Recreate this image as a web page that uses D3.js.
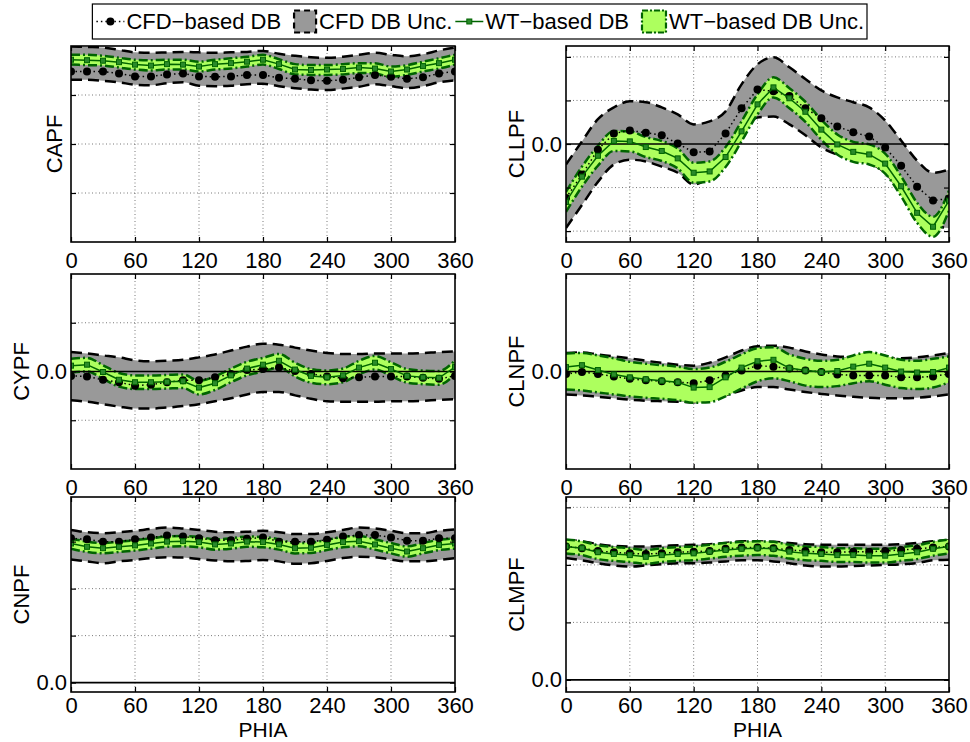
<!DOCTYPE html>
<html lang="en">
<head>
<meta charset="UTF-8">
<title>CFD vs WT database</title>
<style>
  body { margin: 0; background: #fff; }
  svg { display: block; font-family: "Liberation Sans", Arial, Helvetica, sans-serif; }
</style>
</head>
<body>
<svg id="chart" width="970" height="742"></svg>
<script src="https://d3js.org/d3.v7.min.js"></script>
<script>
// ---- data ----
const phia = [0,15,30,45,60,75,90,105,120,135,150,165,180,195,210,225,240,255,270,285,300,315,330,345,360];
const xTicks = [0,60,120,180,240,300,360];

const capfCfd   = [4.48,4.48,4.48,4.44,4.38,4.38,4.42,4.44,4.38,4.37,4.38,4.41,4.41,4.35,4.33,4.30,4.29,4.31,4.36,4.41,4.37,4.33,4.36,4.44,4.48];
const capfCfdLo = [4.31,4.31,4.29,4.26,4.21,4.20,4.24,4.26,4.19,4.18,4.19,4.22,4.23,4.18,4.14,4.11,4.10,4.13,4.17,4.22,4.18,4.14,4.18,4.26,4.30];
const capfCfdHi = [4.99,4.98,4.97,4.92,4.87,4.86,4.87,4.88,4.87,4.86,4.87,4.88,4.90,4.84,4.80,4.77,4.76,4.78,4.82,4.86,4.82,4.79,4.83,4.91,4.97];
const capfWt    = [4.72,4.71,4.70,4.67,4.62,4.60,4.63,4.62,4.58,4.63,4.65,4.68,4.72,4.63,4.52,4.51,4.52,4.53,4.56,4.54,4.48,4.52,4.59,4.65,4.72];
const capfWtLo  = [4.62,4.61,4.60,4.56,4.52,4.50,4.52,4.52,4.48,4.52,4.54,4.58,4.62,4.53,4.42,4.41,4.41,4.42,4.45,4.44,4.37,4.41,4.48,4.54,4.62];
const capfWtHi  = [4.82,4.82,4.80,4.76,4.72,4.71,4.72,4.72,4.68,4.72,4.75,4.78,4.82,4.73,4.63,4.61,4.61,4.63,4.65,4.65,4.58,4.61,4.68,4.75,4.82];

const cllpfCfd   = [-1.24,-0.70,-0.13,0.24,0.31,0.26,0.20,0.01,-0.19,-0.17,0.24,0.82,1.25,1.21,1.10,0.82,0.59,0.40,0.27,0.17,-0.08,-0.50,-0.98,-1.30,-1.25];
const cllpfCfdLo = [-1.93,-1.40,-0.87,-0.47,-0.36,-0.40,-0.52,-0.66,-0.93,-0.75,-0.36,0.22,0.61,0.63,0.45,0.20,-0.08,-0.24,-0.31,-0.43,-0.66,-1.10,-1.51,-1.86,-1.93];
const cllpfCfdHi = [-0.47,0.06,0.57,0.84,0.98,0.96,0.84,0.68,0.45,0.52,0.75,1.37,1.83,1.99,1.76,1.49,1.23,1.07,0.96,0.84,0.54,0.08,-0.38,-0.66,-0.59];
const cllpfWt    = [-1.33,-0.75,-0.27,0.07,0.06,-0.07,-0.16,-0.33,-0.66,-0.63,-0.30,0.29,0.91,1.30,1.05,0.74,0.33,-0.01,-0.18,-0.24,-0.45,-0.97,-1.58,-1.90,-1.30];
const cllpfWtLo  = [-1.56,-0.98,-0.50,-0.16,-0.17,-0.30,-0.39,-0.56,-0.89,-0.86,-0.53,0.06,0.68,1.07,0.82,0.51,0.10,-0.24,-0.41,-0.47,-0.68,-1.20,-1.81,-2.13,-1.53];
const cllpfWtHi  = [-1.10,-0.52,-0.04,0.30,0.29,0.16,0.07,-0.10,-0.43,-0.40,-0.07,0.52,1.14,1.53,1.28,0.97,0.56,0.22,0.05,-0.01,-0.22,-0.74,-1.35,-1.67,-1.07];

const cypfCfd   = [-0.09,-0.10,-0.17,-0.22,-0.29,-0.27,-0.22,-0.18,-0.18,-0.12,-0.05,0.03,0.05,0.08,0.01,-0.05,-0.10,-0.14,-0.12,-0.10,-0.10,-0.10,-0.13,-0.15,-0.09];
const cypfCfdLo = [-0.59,-0.62,-0.67,-0.72,-0.76,-0.76,-0.74,-0.71,-0.67,-0.61,-0.55,-0.47,-0.42,-0.42,-0.49,-0.56,-0.61,-0.62,-0.62,-0.62,-0.61,-0.61,-0.60,-0.58,-0.57];
const cypfCfdHi = [0.40,0.37,0.33,0.29,0.23,0.21,0.22,0.24,0.29,0.35,0.43,0.51,0.57,0.55,0.49,0.43,0.38,0.36,0.36,0.37,0.37,0.37,0.38,0.40,0.41];
const cypfWt    = [0.12,0.14,-0.01,-0.17,-0.22,-0.22,-0.21,-0.20,-0.33,-0.24,-0.08,0.06,0.14,0.22,0.04,-0.09,-0.12,-0.08,0.08,0.18,0.05,-0.09,-0.12,-0.13,0.09];
const cypfWtLo  = [-0.02,0.00,-0.15,-0.31,-0.36,-0.36,-0.35,-0.34,-0.47,-0.38,-0.22,-0.08,0.00,0.08,-0.10,-0.23,-0.26,-0.22,-0.06,0.04,-0.09,-0.23,-0.26,-0.27,-0.05];
const cypfWtHi  = [0.26,0.28,0.13,-0.03,-0.08,-0.08,-0.07,-0.06,-0.19,-0.10,0.06,0.20,0.28,0.36,0.18,0.05,0.02,0.06,0.22,0.32,0.19,0.05,0.02,0.01,0.23];

const clnpfCfd   = [-0.05,-0.01,-0.05,-0.10,-0.15,-0.18,-0.20,-0.22,-0.24,-0.18,-0.08,0.02,0.12,0.10,0.06,0.02,-0.01,-0.06,-0.08,-0.08,-0.08,-0.12,-0.12,-0.10,-0.05];
const clnpfCfdLo = [-0.47,-0.49,-0.52,-0.55,-0.58,-0.60,-0.61,-0.62,-0.63,-0.59,-0.49,-0.39,-0.32,-0.32,-0.37,-0.42,-0.46,-0.49,-0.52,-0.54,-0.55,-0.55,-0.54,-0.51,-0.47];
const clnpfCfdHi = [0.38,0.39,0.35,0.31,0.27,0.22,0.18,0.14,0.12,0.18,0.29,0.43,0.52,0.53,0.49,0.41,0.35,0.31,0.29,0.27,0.26,0.27,0.29,0.33,0.38];
const clnpfWt    = [0.09,0.13,0.03,-0.06,-0.12,-0.16,-0.19,-0.22,-0.33,-0.32,-0.12,0.08,0.21,0.24,0.07,0.02,-0.01,0.01,0.10,0.16,0.08,0.00,-0.02,-0.01,0.08];
const clnpfWtLo  = [-0.37,-0.39,-0.43,-0.47,-0.51,-0.54,-0.56,-0.59,-0.64,-0.63,-0.51,-0.35,-0.20,-0.14,-0.20,-0.29,-0.32,-0.30,-0.24,-0.20,-0.27,-0.34,-0.36,-0.33,-0.22];
const clnpfWtHi  = [0.37,0.38,0.33,0.27,0.20,0.16,0.13,0.10,0.05,0.08,0.20,0.35,0.48,0.50,0.35,0.26,0.22,0.24,0.33,0.40,0.33,0.24,0.22,0.26,0.31];

const cnpfCfd   = [3.07,3.05,3.00,3.00,3.05,3.09,3.13,3.11,3.07,3.03,3.03,3.06,3.09,3.00,3.00,3.00,3.04,3.11,3.14,3.14,3.09,3.02,3.02,3.07,3.07];
const cnpfCfdLo = [2.62,2.58,2.54,2.58,2.61,2.65,2.67,2.66,2.63,2.60,2.58,2.59,2.61,2.58,2.53,2.54,2.59,2.65,2.68,2.67,2.62,2.58,2.58,2.61,2.65];
const cnpfCfdHi = [3.25,3.20,3.18,3.20,3.23,3.27,3.30,3.28,3.25,3.21,3.20,3.21,3.23,3.20,3.16,3.16,3.20,3.25,3.30,3.28,3.23,3.18,3.18,3.23,3.26];
const cnpfWt    = [2.96,2.89,2.86,2.89,2.92,2.96,3.00,3.01,2.99,2.94,2.96,3.00,2.99,2.94,2.86,2.87,2.93,2.99,3.01,2.94,2.86,2.79,2.86,2.93,2.96];
const cnpfWtLo  = [2.85,2.78,2.75,2.78,2.81,2.85,2.89,2.90,2.88,2.83,2.85,2.89,2.88,2.83,2.75,2.76,2.82,2.88,2.90,2.83,2.75,2.68,2.75,2.82,2.85];
const cnpfWtHi  = [3.07,3.00,2.97,3.00,3.03,3.07,3.11,3.12,3.10,3.05,3.07,3.11,3.10,3.05,2.97,2.98,3.04,3.10,3.12,3.05,2.97,2.90,2.97,3.04,3.07];

const clmpfCfd   = [2.32,2.29,2.24,2.22,2.20,2.19,2.20,2.22,2.23,2.24,2.28,2.30,2.30,2.29,2.26,2.24,2.22,2.22,2.23,2.23,2.24,2.26,2.28,2.30,2.32];
const clmpfCfdLo = [2.12,2.08,2.03,1.99,1.97,1.99,2.01,2.03,2.03,2.04,2.06,2.08,2.08,2.06,2.03,1.99,1.97,1.97,1.98,1.99,2.00,2.01,2.03,2.08,2.09];
const clmpfCfdHi = [2.43,2.41,2.36,2.33,2.32,2.32,2.33,2.34,2.35,2.36,2.38,2.41,2.41,2.40,2.38,2.36,2.35,2.35,2.35,2.35,2.35,2.36,2.38,2.41,2.43];
const clmpfWt    = [2.32,2.29,2.22,2.19,2.17,2.14,2.17,2.19,2.20,2.23,2.26,2.28,2.29,2.28,2.23,2.20,2.19,2.17,2.17,2.16,2.16,2.19,2.22,2.28,2.32];
const clmpfWtLo  = [2.20,2.17,2.10,2.07,2.05,2.02,2.05,2.07,2.08,2.11,2.14,2.16,2.17,2.16,2.11,2.08,2.07,2.05,2.05,2.04,2.04,2.07,2.10,2.16,2.20];
const clmpfWtHi  = [2.44,2.41,2.34,2.31,2.29,2.26,2.29,2.31,2.32,2.35,2.38,2.40,2.41,2.40,2.35,2.32,2.31,2.29,2.29,2.28,2.28,2.31,2.34,2.40,2.44];

const legendLabels = ['CFD\u2212based DB', 'CFD DB Unc.', 'WT\u2212based DB', 'WT\u2212based DB Unc.'];

// ---- styles ----
const GRAY_FILL = '#999999';
const GREEN_FILL = '#adff5e';
const DARK_GREEN = '#006400';
const FONT = 22;

const svg = d3.select('#chart');
svg.append('rect').attr('width', 970).attr('height', 742).attr('fill', '#fff');

const cols = [[71, 455], [566, 949]];
const rows = [[46, 242], [274, 469], [497, 692]];

const panels = [
  { name: 'CAPF',  col: 0, row: 0, domain: [1, 5],        ticks: [2, 3, 4],         cfd: capfCfd,  cfdLo: capfCfdLo,  cfdHi: capfCfdHi,  wt: capfWt,  wtLo: capfWtLo,  wtHi: capfWtHi,  xTitle: false },
  { name: 'CLLPF', col: 1, row: 0, domain: [-2.25, 2.25], ticks: [-2, -1, 0, 1, 2], cfd: cllpfCfd, cfdLo: cllpfCfdLo, cfdHi: cllpfCfdHi, wt: cllpfWt, wtLo: cllpfWtLo, wtHi: cllpfWtHi, xTitle: false },
  { name: 'CYPF',  col: 0, row: 1, domain: [-2, 2],       ticks: [-1, 0, 1],        cfd: cypfCfd,  cfdLo: cypfCfdLo,  cfdHi: cypfCfdHi,  wt: cypfWt,  wtLo: cypfWtLo,  wtHi: cypfWtHi,  xTitle: false },
  { name: 'CLNPF', col: 1, row: 1, domain: [-2, 2],       ticks: [0],               cfd: clnpfCfd, cfdLo: clnpfCfdLo, cfdHi: clnpfCfdHi, wt: clnpfWt, wtLo: clnpfWtLo, wtHi: clnpfWtHi, xTitle: false },
  { name: 'CNPF',  col: 0, row: 2, domain: [-0.2, 3.95],  ticks: [0, 1, 2, 3],      cfd: cnpfCfd,  cfdLo: cnpfCfdLo,  cfdHi: cnpfCfdHi,  wt: cnpfWt,  wtLo: cnpfWtLo,  wtHi: cnpfWtHi,  xTitle: true },
  { name: 'CLMPF', col: 1, row: 2, domain: [-0.21, 3.18], ticks: [0, 1, 2, 3],      cfd: clmpfCfd, cfdLo: clmpfCfdLo, cfdHi: clmpfCfdHi, wt: clmpfWt, wtLo: clmpfWtLo, wtHi: clmpfWtHi, xTitle: true }
];

panels.forEach(drawPanel);
drawLegend();

function drawPanel(p) {
  const [x0, x1] = cols[p.col];
  const [y0, y1] = rows[p.row];
  const x = d3.scaleLinear().domain([0, 360]).range([x0, x1]);
  const y = d3.scaleLinear().domain(p.domain).range([y1, y0]);
  const idx = phia.map((d, i) => i);
  const g = svg.append('g');

  const clipId = 'clip-' + p.name;
  g.append('clipPath').attr('id', clipId)
    .append('rect').attr('x', x0).attr('y', y0).attr('width', x1 - x0).attr('height', y1 - y0);

  // dotted grid
  g.selectAll('.vgrid').data(xTicks.slice(1, -1)).enter().append('line')
    .attr('x1', d => x(d)).attr('x2', d => x(d)).attr('y1', y0).attr('y2', y1)
    .attr('stroke', '#555').attr('stroke-width', 0.8).attr('stroke-dasharray', '1,2.5');
  g.selectAll('.hgrid').data(p.ticks.filter(t => t !== 0)).enter().append('line')
    .attr('x1', x0).attr('x2', x1).attr('y1', d => y(d)).attr('y2', d => y(d))
    .attr('stroke', '#555').attr('stroke-width', 0.8).attr('stroke-dasharray', '1,2.5');

  const plot = g.append('g').attr('clip-path', 'url(#' + clipId + ')');

  const band = (lo, hi) => d3.area().curve(d3.curveMonotoneX)
    .x(i => x(phia[i])).y0(i => y(lo[i])).y1(i => y(hi[i]));
  const edge = arr => d3.line().curve(d3.curveMonotoneX)
    .x(i => x(phia[i])).y(i => y(arr[i]));
  const line = arr => d3.line().x(i => x(phia[i])).y(i => y(arr[i]));

  // CFD uncertainty band
  plot.append('path').datum(idx).attr('d', band(p.cfdLo, p.cfdHi)).attr('fill', GRAY_FILL);
  [p.cfdLo, p.cfdHi].forEach(arr => {
    plot.append('path').datum(idx).attr('d', edge(arr))
      .attr('fill', 'none').attr('stroke', '#000').attr('stroke-width', 2.5)
      .attr('stroke-dasharray', '11,6');
  });

  // WT uncertainty band
  plot.append('path').datum(idx).attr('d', band(p.wtLo, p.wtHi)).attr('fill', GREEN_FILL);
  [p.wtLo, p.wtHi].forEach(arr => {
    plot.append('path').datum(idx).attr('d', edge(arr))
      .attr('fill', 'none').attr('stroke', DARK_GREEN).attr('stroke-width', 2.5)
      .attr('stroke-dasharray', '9,3,2,3');
  });

  // zero line
  if (p.domain[0] < 0 && p.domain[1] > 0) {
    plot.append('line').attr('x1', x0).attr('x2', x1).attr('y1', y(0)).attr('y2', y(0))
      .attr('stroke', '#000').attr('stroke-width', 1.6);
  }

  // CFD-based database
  plot.append('path').datum(idx).attr('d', line(p.cfd))
    .attr('fill', 'none').attr('stroke', '#000').attr('stroke-width', 1.5)
    .attr('stroke-dasharray', '1.5,3');
  plot.selectAll('.cfdpt').data(idx).enter().append('circle')
    .attr('cx', i => x(phia[i])).attr('cy', i => y(p.cfd[i])).attr('r', 4).attr('fill', '#000');

  // WT-based database
  plot.append('path').datum(idx).attr('d', line(p.wt))
    .attr('fill', 'none').attr('stroke', DARK_GREEN).attr('stroke-width', 1.5);
  plot.selectAll('.wtpt').data(idx).enter().append('rect')
    .attr('x', i => x(phia[i]) - 2.5).attr('y', i => y(p.wt[i]) - 2.5)
    .attr('width', 5).attr('height', 5)
    .attr('fill', '#2a8a2a').attr('stroke', DARK_GREEN).attr('stroke-width', 1);

  // axes
  const xb = g.append('g').attr('transform', `translate(0,${y1})`)
    .call(d3.axisBottom(x).tickValues(xTicks).tickSize(-5).tickPadding(p.xTitle ? 5 : 10));
  const xt = g.append('g').attr('transform', `translate(0,${y0})`)
    .call(d3.axisTop(x).tickValues(xTicks).tickSize(-5).tickFormat(''));
  const yl = g.append('g').attr('transform', `translate(${x0},0)`)
    .call(d3.axisLeft(y).tickValues(p.ticks).tickSize(-5).tickPadding(4)
      .tickFormat(d => d === 0 ? '0.0' : ''));
  const yr = g.append('g').attr('transform', `translate(${x1},0)`)
    .call(d3.axisRight(y).tickValues(p.ticks).tickSize(-5).tickFormat(''));
  [xb, xt, yl, yr].forEach(a => {
    a.select('.domain').remove();
    a.selectAll('.tick line').attr('stroke', '#000').attr('stroke-width', 1.2);
    a.selectAll('text').attr('font-size', FONT).attr('fill', '#000')
      .attr('font-family', '"Liberation Sans", Arial, sans-serif');
  });

  // box
  g.append('rect').attr('x', x0).attr('y', y0).attr('width', x1 - x0).attr('height', y1 - y0)
    .attr('fill', 'none').attr('stroke', '#000').attr('stroke-width', 1.6);

  // y title
  const hasZeroLabel = p.ticks.includes(0);
  const tx = x0 - (hasZeroLabel ? 42 : 9);
  g.append('text').attr('transform', `translate(${tx},${(y0 + y1) / 2}) rotate(-90)`)
    .attr('text-anchor', 'middle').attr('font-size', FONT).text(p.name);

  if (p.xTitle) {
    g.append('text').attr('x', (x0 + x1) / 2).attr('y', y1 + 45)
      .attr('text-anchor', 'middle').attr('font-size', 21).text('PHIA');
  }
}

function drawLegend() {
  const cy = 21.5;
  const lg = svg.append('g');
  const box = lg.append('rect').attr('y', 4).attr('height', 35)
    .attr('fill', '#fff').attr('stroke', '#000').attr('stroke-width', 1.2);
  const widths = [28, 24, 28, 26];
  const texts = legendLabels.map(t => lg.append('text').attr('font-size', FONT)
    .attr('dy', '0.35em').attr('y', cy).text(t));
  const tw = texts.map(t => t.node().getComputedTextLength());
  const gaps = [12, 3, 12, 3];
  let total = 4;
  tw.forEach((w, i) => { total += widths[i] + 2 + w + gaps[i]; });
  const right = 867;
  let cx = right - total;
  box.attr('x', cx).attr('width', total);
  cx += 4;
  legendLabels.forEach((lab, i) => {
    const mx = cx;
    if (i === 0) {
      lg.append('line').attr('x1', mx).attr('x2', mx + widths[i]).attr('y1', cy).attr('y2', cy)
        .attr('stroke', '#000').attr('stroke-width', 1.5).attr('stroke-dasharray', '1.5,3');
      lg.append('circle').attr('cx', mx + widths[i] / 2).attr('cy', cy).attr('r', 4).attr('fill', '#000');
    } else if (i === 1) {
      lg.append('rect').attr('x', mx + 1).attr('y', cy - 11).attr('width', widths[i] - 2).attr('height', 22)
        .attr('fill', GRAY_FILL).attr('stroke', '#000').attr('stroke-width', 2.2).attr('stroke-dasharray', '6,4');
    } else if (i === 2) {
      lg.append('line').attr('x1', mx).attr('x2', mx + widths[i]).attr('y1', cy).attr('y2', cy)
        .attr('stroke', DARK_GREEN).attr('stroke-width', 1.5);
      lg.append('rect').attr('x', mx + widths[i] / 2 - 2.5).attr('y', cy - 2.5).attr('width', 5).attr('height', 5)
        .attr('fill', '#2a8a2a').attr('stroke', DARK_GREEN);
    } else {
      lg.append('rect').attr('x', mx + 1).attr('y', cy - 11).attr('width', widths[i] - 2).attr('height', 22)
        .attr('fill', GREEN_FILL).attr('stroke', DARK_GREEN).attr('stroke-width', 2.2).attr('stroke-dasharray', '6,2,2,2');
    }
    texts[i].attr('x', mx + widths[i] + 2);
    cx += widths[i] + 2 + tw[i] + gaps[i];
  });
}
</script>
</body>
</html>
